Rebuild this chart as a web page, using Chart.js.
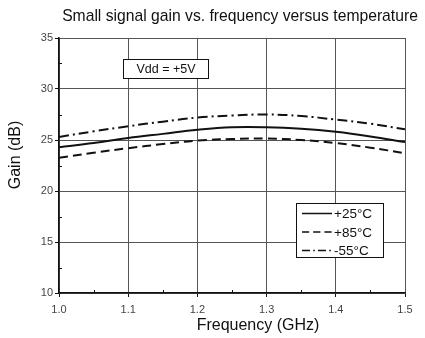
<!DOCTYPE html>
<html>
<head>
<meta charset="utf-8">
<script src="https://cdn.jsdelivr.net/npm/chart.js@4"></script>
<style>
  html, body { margin: 0; padding: 0; background: #fff; }
  #wrap { width: 425px; height: 338px; }
</style>
</head>
<body>
<div id="wrap"><canvas id="graficoGanancia" width="425" height="338"></canvas></div>
<script>
const frecuencias = [1.0, 1.05, 1.1, 1.15, 1.2, 1.25, 1.3, 1.35, 1.4, 1.45, 1.5];
const gan25 = [24.3, 24.7, 25.2, 25.6, 26.0, 26.25, 26.25, 26.1, 25.8, 25.35, 24.8];
const gan85 = [23.25, 23.75, 24.2, 24.6, 24.95, 25.1, 25.15, 25.0, 24.7, 24.25, 23.7];
const ganM55 = [25.3, 25.85, 26.35, 26.8, 27.2, 27.4, 27.5, 27.35, 27.0, 26.6, 26.05];
const etiquetas = ["+25°C", "+85°C", "-55°C"];
const titulo = "Small signal gain vs. frequency versus temperature";
const tituloX = "Frequency (GHz)";
const tituloY = "Gain (dB)";
const nota = "Vdd = +5V";

const fuente = "Arial, 'Liberation Sans', sans-serif";
const estilos = [
  { dash: [], width: 2 },
  { dash: [9, 5], width: 2 },
  { dash: [10, 4, 2, 4], width: 2 },
];

const pares = (ys) => frecuencias.map((x, i) => ({ x: x, y: ys[i] }));

const extras = {
  id: "extras",
  afterDraw(chart) {
    const ctx = chart.ctx;
    const a = chart.chartArea;
    const sx = chart.scales.x;
    const sy = chart.scales.y;
    ctx.save();

    // titulos
    ctx.fillStyle = "#111";
    ctx.textAlign = "center";
    ctx.textBaseline = "middle";
    ctx.font = "15.7px " + fuente;
    ctx.fillText(titulo, 240, 17);
    ctx.font = "16px " + fuente;
    ctx.fillText(tituloX, 258, 326);
    ctx.save();
    ctx.translate(16, 155);
    ctx.rotate(-Math.PI / 2);
    ctx.fillText(tituloY, 0, 0);
    ctx.restore();

    // ticks menores hacia adentro
    ctx.strokeStyle = "#111";
    ctx.lineWidth = 1;
    [1.05, 1.15, 1.25, 1.35, 1.45].forEach((v) => {
      const px = Math.round(sx.getPixelForValue(v)) + 0.5;
      ctx.beginPath();
      ctx.moveTo(px, a.bottom);
      ctx.lineTo(px, a.bottom - 3);
      ctx.stroke();
    });
    [12.5, 17.5, 22.5, 27.5, 32.5].forEach((v) => {
      const py = Math.round(sy.getPixelForValue(v)) + 0.5;
      ctx.beginPath();
      ctx.moveTo(a.left, py);
      ctx.lineTo(a.left + 3, py);
      ctx.stroke();
    });

    // caja Vdd
    ctx.fillStyle = "#fff";
    ctx.fillRect(123.5, 59.5, 85, 19);
    ctx.strokeRect(123.5, 59.5, 85, 19);
    ctx.fillStyle = "#111";
    ctx.font = "12.5px " + fuente;
    ctx.fillText(nota, 166, 69.5);

    // leyenda
    ctx.fillStyle = "#fff";
    ctx.fillRect(296.5, 203.5, 87, 54);
    ctx.strokeRect(296.5, 203.5, 87, 54);
    ctx.textAlign = "left";
    ctx.font = "13.5px " + fuente;
    etiquetas.forEach((t, i) => {
      const y = 213.5 + i * 18.5;
      ctx.strokeStyle = "#111";
      ctx.lineWidth = 1.5;
      ctx.setLineDash(estilos[i].dash.map((d) => d * 0.8));
      ctx.beginPath();
      ctx.moveTo(302, y);
      ctx.lineTo(332, y);
      ctx.stroke();
      ctx.setLineDash([]);
      ctx.fillStyle = "#111";
      ctx.fillText(t, 334, y + 1);
    });
    ctx.restore();
  },
};

const ctxGanancia = document.getElementById("graficoGanancia");

new Chart(ctxGanancia, {
  type: "line",
  data: {
    datasets: [gan25, gan85, ganM55].map((serie, i) => ({
      label: etiquetas[i],
      data: pares(serie),
      borderColor: "#111",
      borderWidth: estilos[i].width,
      borderDash: estilos[i].dash,
      pointRadius: 0,
      tension: 0.4,
      fill: false,
    })),
  },
  options: {
    responsive: false,
    animation: false,
    layout: { padding: { top: 38, right: 20, left: 0, bottom: 0 } },
    plugins: {
      legend: { display: false },
      title: { display: false },
      tooltip: { enabled: false },
    },
    scales: {
      x: {
        type: "linear",
        min: 1.0,
        max: 1.5,
        afterFit: (s) => { s.height = 45; },
        ticks: {
          stepSize: 0.1,
          color: "#444",
          font: { family: fuente, size: 11 },
          padding: 6,
          callback: (v) => v.toFixed(1),
        },
        grid: { color: "#555", lineWidth: 1, tickLength: 4, tickColor: "#111" },
        border: { color: "#111", width: 1.5 },
      },
      y: {
        min: 10,
        max: 35,
        afterFit: (s) => { s.width = 59; },
        ticks: {
          stepSize: 5,
          color: "#444",
          font: { family: fuente, size: 11 },
          padding: 2,
        },
        grid: { color: "#555", lineWidth: 1, tickLength: 4, tickColor: "#111" },
        border: { color: "#111", width: 1.5 },
      },
    },
  },
  plugins: [extras],
});
</script>
</body>
</html>
